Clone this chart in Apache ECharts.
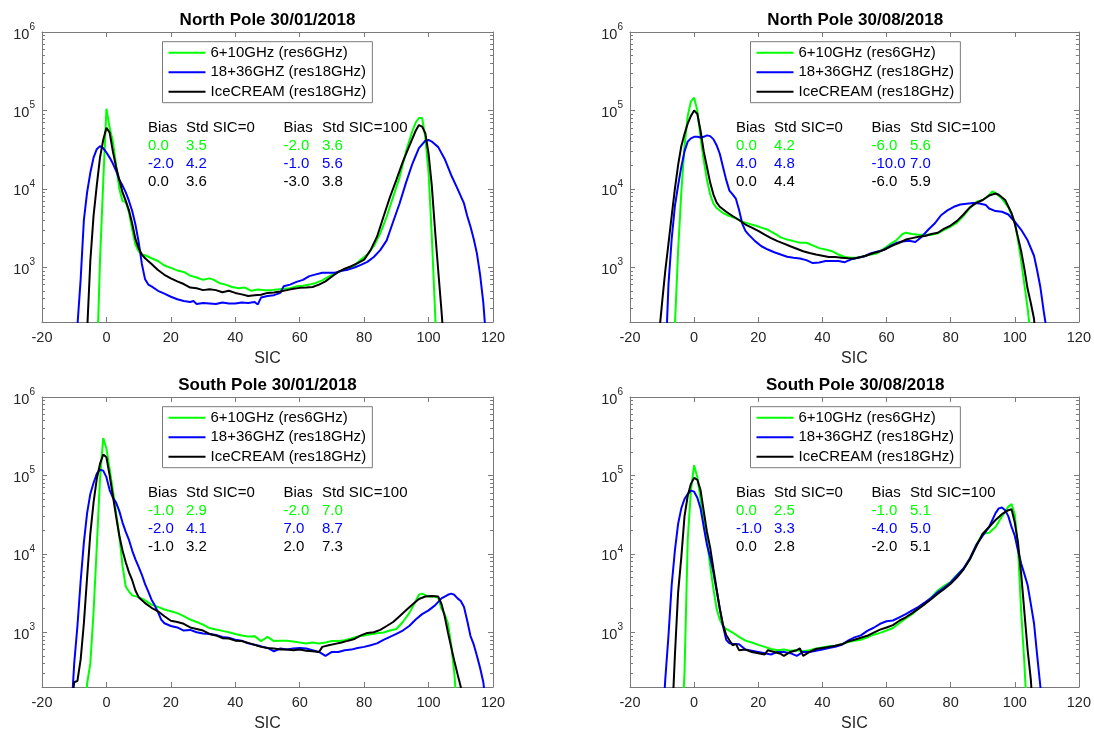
<!DOCTYPE html>
<html>
<head>
<meta charset="utf-8">
<script src="https://cdn.jsdelivr.net/npm/echarts@6/dist/echarts.min.js"></script>
<style>
html,body{margin:0;padding:0;background:#fff;}
#chart{width:1094px;height:733px;}
</style>
</head>
<body>
<div id="chart"></div>
<script>
// ---------------- DATA ----------------
const panelTitles = ['North Pole 30/01/2018', 'North Pole 30/08/2018', 'South Pole 30/01/2018', 'South Pole 30/08/2018'];
const seriesNames = ['6+10GHz (res6GHz)', '18+36GHZ (res18GHz)', 'IceCREAM (res18GHz)'];
const seriesColors = ['#00ff00', '#0000ff', '#000000'];
const xTickValues = [-20, 0, 20, 40, 60, 80, 100, 120];
const yTickValues = [1e3, 1e4, 1e5, 1e6];
const yTickExponents = ['3', '4', '5', '6'];
const xLabel = 'SIC';
const statsHeader = ['Bias', 'Std SIC=0', 'Bias', 'Std SIC=100'];

// stats rows: [bias0, std0, bias100, std100] per product (green, blue, black)
const statsNP0130 = [['0.0', '3.5', '-2.0', '3.6'], ['-2.0', '4.2', '-1.0', '5.6'], ['0.0', '3.6', '-3.0', '3.8']];
const statsNP0830 = [['0.0', '4.2', '-6.0', '5.6'], ['4.0', '4.8', '-10.0', '7.0'], ['0.0', '4.4', '-6.0', '5.9']];
const statsSP0130 = [['-1.0', '2.9', '-2.0', '7.0'], ['-2.0', '4.1', '7.0', '8.7'], ['-1.0', '3.2', '2.0', '7.3']];
const statsSP0830 = [['0.0', '2.5', '-1.0', '5.1'], ['-1.0', '3.3', '-4.0', '5.0'], ['0.0', '2.8', '-2.0', '5.1']];

// North Pole 30/01/2018
const np0130Green = [[-3,50],[-2,1200],[-1,12000],[0,105000],[1,60000],[2,40000],[3,20000],[4,10000],[5,7000],[6,6800],[7,5000],[8,3000],[9,1950],[10,1600],[11,1450],[12,1420],[14,1300],[16,1200],[18,1050],[20,980],[22,910],[24,870],[26,780],[28,740],[30,690],[32,720],[33,700],[35,630],[37,600],[39,560],[41,540],[43,550],[45,500],[47,520],[49,510],[51,510],[53,520],[55,530],[57,540],[59,570],[61,580],[63,600],[65,630],[67,680],[69,760],[71,840],[73,900],[75,980],[77,1050],[79,1250],[81,1450],[83,1850],[85,2700],[87,4400],[89,7900],[91,14000],[93,30000],[95,55000],[96,70000],[97,80000],[98,80000],[99,45000],[100,16000],[101,2500],[102,280],[103,30]];
const np0130Blue = [[-9.5,50],[-9,180],[-8,700],[-7,4000],[-6,9000],[-5,16000],[-4,25000],[-3,32000],[-2,35000],[-1,33000],[0,29000],[1,25000],[2,21000],[3,17000],[4,13000],[5,11000],[6,9000],[7,7000],[8,5200],[9,3500],[10,2100],[11,1100],[12,700],[13,600],[14,570],[16,500],[18,460],[20,420],[22,390],[24,370],[26,360],[27,370],[28,340],[30,350],[32,345],[34,340],[36,355],[38,345],[40,345],[42,355],[44,350],[46,360],[47,335],[48,410],[50,430],[52,440],[54,470],[55,570],[57,600],[59,650],[61,690],[63,770],[65,810],[67,850],[69,850],[71,850],[73,900],[75,930],[77,990],[79,1070],[81,1170],[83,1350],[85,1650],[87,2200],[89,3800],[91,6500],[93,12000],[95,21000],[97,33000],[99,41000],[100,42000],[101,40000],[103,34000],[105,24000],[107,15000],[109,10000],[111,6500],[112,4500],[113,3300],[114,2300],[115,1500],[116,800],[117,350],[118,100]];
const np0130Black = [[-7,30],[-6,150],[-5,1200],[-4,4500],[-3,11000],[-2,25000],[-1,42000],[0,60000],[1,52000],[2,30000],[3,19000],[4,13000],[5,9000],[6,7000],[7,5300],[8,3600],[9,2300],[10,1750],[11,1450],[12,1300],[14,1100],[16,920],[18,800],[20,720],[22,660],[24,610],[26,550],[28,540],[30,510],[32,525],[34,510],[36,480],[38,500],[40,470],[42,450],[44,430],[46,440],[48,445],[50,470],[52,475],[54,490],[56,510],[58,530],[60,545],[62,550],[64,560],[66,600],[68,660],[70,760],[72,870],[74,960],[76,1030],[78,1130],[80,1250],[82,1650],[84,2450],[86,4400],[88,7800],[90,13000],[92,22000],[94,35000],[96,55000],[97,65000],[98,62000],[99,51000],[100,28000],[101,11000],[102,3000],[103,900],[104,280],[105,80]];

// North Pole 30/08/2018
const np0830Green = [[-6.5,50],[-6,180],[-5,1600],[-4,9000],[-3,35000],[-2,85000],[-1,130000],[0,145000],[1,100000],[2,45000],[3,23000],[4,13000],[5,8500],[6,6500],[7,5700],[9,4900],[11,4500],[13,4200],[15,3800],[17,3600],[19,3400],[21,3200],[23,3000],[25,2700],[27,2400],[29,2250],[31,2150],[33,2050],[35,2050],[37,1900],[39,1750],[41,1680],[43,1600],[45,1450],[47,1350],[49,1320],[51,1320],[53,1380],[55,1450],[57,1500],[59,1700],[61,1950],[63,2200],[65,2650],[66,2750],[68,2650],[70,2600],[72,2600],[74,2600],[76,2700],[78,3000],[80,3300],[82,3700],[84,4500],[86,5700],[88,6800],[90,7200],[92,8300],[93,9300],[94,8800],[96,7500],[98,5800],[100,3800],[101,2200],[102,1200],[103,600],[104,300],[105,130],[106,40]];
const np0830Blue = [[-9,60],[-8.5,180],[-8,600],[-7,2300],[-6,6000],[-5,11000],[-4,19000],[-3,30000],[-2,40000],[-1,44000],[0,46000],[1,46000],[2,45000],[3,46000],[4,48000],[5,47000],[6,43000],[7,36000],[8,28000],[9,19000],[10,13000],[11,9500],[12,8500],[13,7500],[14,5400],[15,3600],[16,2900],[17,2600],[19,2150],[21,1850],[23,1680],[25,1550],[27,1450],[29,1360],[31,1320],[33,1290],[35,1230],[37,1130],[39,1150],[41,1200],[43,1200],[45,1200],[47,1160],[49,1260],[51,1320],[53,1370],[55,1500],[57,1580],[59,1650],[61,1850],[63,2030],[65,2130],[67,2180],[69,2100],[71,2450],[73,3000],[75,3600],[77,4600],[79,5300],[81,5900],[83,6300],[85,6450],[87,6600],[89,6500],[91,6200],[92,5600],[94,5200],[96,5100],[98,4700],[100,3800],[102,3000],[104,2200],[106,1400],[107,900],[108,550],[109,280],[110,150],[111,60]];
const np0830Black = [[-11,130],[-10,350],[-9,900],[-8,2000],[-7,4500],[-6,10000],[-5,20000],[-4,35000],[-3,50000],[-2,68000],[-1,85000],[0,100000],[1,90000],[2,55000],[3,30000],[4,19000],[5,12000],[6,8500],[7,6700],[8,5900],[10,5100],[12,4500],[14,4000],[16,3500],[18,3200],[20,2900],[22,2600],[24,2350],[26,2150],[28,2000],[30,1850],[32,1720],[34,1600],[36,1520],[38,1450],[40,1400],[42,1350],[44,1350],[46,1320],[48,1300],[50,1290],[52,1350],[54,1420],[56,1520],[58,1600],[60,1720],[62,1900],[64,2050],[66,2250],[68,2350],[70,2450],[72,2500],[74,2650],[76,2750],[78,3100],[80,3400],[82,3900],[84,4700],[86,5800],[88,6600],[90,7200],[92,8200],[94,8700],[95,8400],[97,7200],[99,4900],[100,3600],[101,2400],[102,1600],[103,950],[104,530],[105,350],[106,220],[107,70]];

// South Pole 30/01/2018
const sp0130Green = [[-7,50],[-6,220],[-5,400],[-4,1800],[-3,12000],[-2,90000],[-1,300000],[0,220000],[1,120000],[2,65000],[3,33000],[4,17000],[5,7000],[6,3800],[7,3300],[8,2950],[10,2800],[12,2550],[14,2250],[16,2100],[18,1950],[20,1850],[22,1750],[24,1600],[26,1450],[28,1350],[30,1250],[32,1130],[34,1080],[36,1040],[38,1000],[40,950],[42,910],[44,880],[46,890],[48,770],[50,870],[52,770],[54,780],[56,780],[58,760],[60,740],[62,720],[64,740],[66,720],[68,740],[70,770],[72,770],[74,790],[76,830],[78,880],[80,910],[82,940],[84,970],[86,990],[88,1050],[90,1100],[92,1350],[94,1750],[96,2500],[97,3000],[98,3100],[100,2850],[102,2850],[103,2750],[104,2000],[105,1700],[106,1300],[107,700],[108,300],[109,80]];
const sp0130Blue = [[-11,80],[-10,400],[-9,1200],[-8,4500],[-7,14000],[-6,33000],[-5,58000],[-4,80000],[-3,105000],[-2,118000],[-1,115000],[0,95000],[1,65000],[2,52000],[3,45000],[4,35000],[5,25000],[6,19000],[7,15000],[8,11000],[9,8500],[10,6800],[11,5400],[12,4100],[13,3300],[14,2600],[15,2200],[16,1800],[17,1450],[18,1300],[20,1200],[22,1150],[24,1050],[26,1070],[28,1000],[30,960],[32,950],[34,920],[36,870],[38,850],[40,800],[42,780],[44,720],[46,690],[48,660],[50,630],[52,570],[54,620],[56,600],[58,620],[60,630],[62,620],[64,590],[66,560],[68,500],[70,560],[72,560],[74,590],[76,600],[78,630],[80,650],[82,680],[84,720],[86,800],[88,870],[90,950],[92,1050],[94,1200],[96,1450],[98,1700],[100,1900],[102,2200],[104,2700],[106,3000],[107,3100],[108,3000],[109,2700],[110,2500],[111,2100],[112,1400],[113,900],[114,700],[115,500],[116,350],[117,230],[118,100]];
const sp0130Black = [[-11,100],[-10,230],[-9,240],[-8,450],[-7,1300],[-6,5000],[-5,18000],[-4,45000],[-3,90000],[-2,140000],[-1,185000],[0,170000],[1,100000],[2,55000],[3,30000],[4,17000],[5,11000],[6,7800],[7,5800],[8,4600],[9,3400],[10,2800],[12,2350],[14,2050],[16,1850],[18,1600],[20,1400],[22,1350],[24,1280],[26,1150],[28,1100],[30,1050],[32,950],[34,910],[36,840],[38,830],[40,780],[42,770],[44,730],[46,690],[48,650],[50,630],[52,620],[54,600],[56,600],[58,590],[60,600],[62,580],[64,570],[66,560],[67,650],[69,680],[71,710],[73,740],[75,780],[77,820],[79,910],[81,980],[83,1000],[85,1070],[87,1200],[89,1350],[91,1600],[93,1900],[95,2250],[97,2650],[99,2850],[101,2900],[103,2850],[104,2300],[105,1600],[106,1000],[107,650],[108,430],[109,290],[110,200],[111,80]];

// South Pole 30/08/2018
const sp0830Green = [[-4,50],[-3,300],[-2,15000],[-1,65000],[0,135000],[1,95000],[2,50000],[3,26000],[4,15000],[5,7000],[6,3600],[7,2000],[8,1450],[9,1200],[10,1100],[12,990],[14,870],[16,780],[18,740],[20,690],[22,650],[24,610],[26,590],[28,600],[30,580],[32,590],[34,570],[36,590],[38,620],[40,640],[42,660],[44,670],[46,700],[48,750],[50,780],[52,800],[54,860],[56,930],[58,980],[60,1050],[62,1130],[64,1300],[66,1500],[68,1700],[70,2000],[72,2300],[74,2800],[76,3400],[78,3900],[80,4400],[82,5400],[84,6500],[86,8500],[88,13000],[90,18000],[92,18500],[94,22000],[96,30000],[98,40000],[99,43000],[100,32000],[101,12000],[102,1800],[103,400],[104,60]];
const sp0830Blue = [[-10,50],[-9,250],[-8,900],[-7,4000],[-6,11000],[-5,24000],[-4,38000],[-3,50000],[-2,58000],[-1,64000],[0,62000],[1,52000],[2,38000],[3,22000],[4,13000],[5,9000],[6,5800],[7,3400],[8,2000],[9,1200],[10,800],[11,720],[12,710],[14,700],[16,600],[18,580],[20,560],[22,540],[24,520],[26,560],[28,560],[30,540],[32,500],[34,560],[36,560],[38,580],[40,600],[42,630],[44,650],[46,690],[48,780],[50,860],[52,910],[54,1040],[56,1140],[58,1280],[60,1380],[62,1410],[64,1550],[66,1700],[68,1900],[70,2100],[72,2400],[74,2750],[76,3250],[78,3700],[80,4300],[82,5300],[84,6500],[86,8800],[88,13000],[90,17000],[92,22000],[94,33000],[95,38000],[96,39000],[97,36000],[98,30000],[99,22000],[100,17000],[101,11000],[102,7500],[103,5500],[104,4000],[105,2300],[106,1300],[107,500],[108,200],[109,60]];
const sp0830Black = [[-7,60],[-6,500],[-5,3200],[-4,9000],[-3,30000],[-2,55000],[-1,78000],[0,93000],[1,88000],[2,65000],[3,35000],[4,19000],[5,12000],[6,6500],[7,3600],[8,2000],[9,1250],[10,920],[11,790],[12,680],[13,710],[14,590],[16,600],[18,560],[20,540],[22,520],[23,590],[25,560],[27,530],[28,500],[30,560],[32,590],[33,620],[34,500],[36,560],[38,610],[40,630],[42,650],[44,670],[46,700],[48,760],[50,800],[52,850],[54,900],[56,990],[58,1080],[60,1150],[62,1230],[64,1400],[66,1550],[68,1750],[70,2000],[72,2300],[74,2650],[76,3100],[78,3550],[80,4150],[82,5000],[84,6300],[86,8500],[88,12500],[90,18000],[92,22000],[94,27000],[96,32000],[98,36000],[99,37000],[100,25000],[101,14000],[102,5500],[103,1800],[104,600],[105,250],[106,60]];

const panelSeries = [
  [np0130Green, np0130Blue, np0130Black],
  [np0830Green, np0830Blue, np0830Black],
  [sp0130Green, sp0130Blue, sp0130Black],
  [sp0830Green, sp0830Blue, sp0830Black]
];
const panelStats = [statsNP0130, statsNP0830, statsSP0130, statsSP0830];

// ---------------- LAYOUT / STYLE ----------------
const FONT = '"Liberation Sans", Arial, Helvetica, sans-serif';
const AXIS_COLOR = '#7a7a7a';
const TEXT_COLOR = '#262626';
const grids = [
  {left: 42, top: 32, width: 451, height: 290},
  {left: 630, top: 32, width: 450.5, height: 290},
  {left: 42, top: 397, width: 451, height: 290.5},
  {left: 630, top: 397, width: 450.5, height: 290.5}
];
const Y_MIN = 200, Y_MAX = 1e6;
const minorTickValues = [];
for (let e = 2; e <= 5; e++) {
  for (let m = 2; m <= 9; m++) minorTickValues.push(m * Math.pow(10, e));
}

const option = {
  animation: false,
  backgroundColor: '#ffffff',
  textStyle: {fontFamily: FONT},
  title: [],
  legend: [],
  grid: [],
  xAxis: [],
  yAxis: [],
  series: [],
  graphic: []
};

grids.forEach((g, gi) => {
  option.grid.push({left: g.left, top: g.top, width: g.width, height: g.height, containLabel: false});
  option.title.push({
    text: panelTitles[gi],
    left: g.left + g.width / 2,
    top: g.top - 20,
    textAlign: 'center',
    padding: 0,
    textStyle: {fontFamily: FONT, fontSize: 17, fontWeight: 'bold', color: '#000'}
  });
  // x axes: bottom (labelled) and top (ticks only)
  const xCommon = {
    type: 'value', gridIndex: gi, min: xTickValues[0], max: xTickValues[xTickValues.length - 1],
    interval: xTickValues[1] - xTickValues[0],
    splitLine: {show: false},
    axisLine: {show: true, onZero: false, lineStyle: {color: AXIS_COLOR, width: 1}},
    axisTick: {show: true, inside: true, length: 5, lineStyle: {color: AXIS_COLOR}}
  };
  option.xAxis.push(Object.assign({}, xCommon, {
    position: 'bottom',
    name: xLabel, nameLocation: 'middle', nameGap: 29,
    nameTextStyle: {fontFamily: FONT, fontSize: 16, color: TEXT_COLOR},
    axisLabel: {show: true, margin: 8, fontFamily: FONT, fontSize: 14.5, color: TEXT_COLOR}
  }));
  option.xAxis.push(Object.assign({}, xCommon, {position: 'top', axisLabel: {show: false}}));
  // y axes: left major (labelled), left minor, right major, right minor
  const yCommon = {
    type: 'log', logBase: 10, gridIndex: gi, min: Y_MIN, max: Y_MAX,
    splitLine: {show: false}, minorTick: {show: false}, minorSplitLine: {show: false},
    axisLine: {show: true, onZero: false, lineStyle: {color: AXIS_COLOR, width: 1}}
  };
  option.yAxis.push(Object.assign({}, yCommon, {
    position: 'left',
    axisTick: {show: true, inside: true, length: 5, customValues: yTickValues, lineStyle: {color: AXIS_COLOR}},
    axisLabel: {
      show: true, margin: 7, customValues: yTickValues,
      formatter: function (v) {
        const idx = yTickValues.indexOf(v);
        return '{b|10}{s|' + (idx >= 0 ? yTickExponents[idx] : '') + '}';
      },
      rich: {
        b: {fontFamily: FONT, fontSize: 14.5, color: TEXT_COLOR, lineHeight: 20, verticalAlign: 'bottom'},
        s: {fontFamily: FONT, fontSize: 10, color: TEXT_COLOR, lineHeight: 20, verticalAlign: 'top'}
      }
    }
  }));
  option.yAxis.push(Object.assign({}, yCommon, {
    position: 'left',
    axisLine: {show: false, onZero: false},
    axisTick: {show: true, inside: true, length: 3, customValues: minorTickValues, lineStyle: {color: AXIS_COLOR}},
    axisLabel: {show: false}
  }));
  option.yAxis.push(Object.assign({}, yCommon, {
    position: 'right',
    axisTick: {show: true, inside: true, length: 5, customValues: yTickValues, lineStyle: {color: AXIS_COLOR}},
    axisLabel: {show: false}
  }));
  option.yAxis.push(Object.assign({}, yCommon, {
    position: 'right',
    axisLine: {show: false, onZero: false},
    axisTick: {show: true, inside: true, length: 3, customValues: minorTickValues, lineStyle: {color: AXIS_COLOR}},
    axisLabel: {show: false}
  }));
  // series
  panelSeries[gi].forEach((d, si) => {
    option.series.push({
      type: 'line', name: seriesNames[si], data: d,
      xAxisIndex: gi * 2, yAxisIndex: gi * 4,
      showSymbol: false, symbol: 'none', clip: true, smooth: false,
      lineStyle: {color: seriesColors[si], width: 2},
      itemStyle: {color: seriesColors[si]},
      z: 2 + si
    });
  });
  // legend
  option.legend.push({
    data: seriesNames, orient: 'vertical', selectedMode: false,
    left: g.left + 120.5, top: g.top + 9.7,
    padding: [3.5, 6, 3.5, 6], itemGap: 4.5, itemWidth: 37, itemHeight: 2,
    icon: 'rect', backgroundColor: '#ffffff', borderColor: AXIS_COLOR, borderWidth: 1, borderRadius: 0,
    textStyle: {fontFamily: FONT, fontSize: 15, color: '#000', lineHeight: 15}
  });
  // stats text block
  const colX = [106, 144, 241.5, 280];
  const rowY = [96, 114.3, 132.3, 150];
  statsHeader.forEach((t, ci) => {
    option.graphic.push({type: 'text', x: g.left + colX[ci], y: g.top + rowY[0], silent: true,
      style: {text: t, fill: '#000', font: '15px ' + FONT, verticalAlign: 'middle', align: 'left'}});
  });
  panelStats[gi].forEach((row, ri) => {
    row.forEach((t, ci) => {
      option.graphic.push({type: 'text', x: g.left + colX[ci], y: g.top + rowY[ri + 1], silent: true,
        style: {text: t, fill: seriesColors[ri], font: '15px ' + FONT, verticalAlign: 'middle', align: 'left'}});
    });
  });
});

const chart = echarts.init(document.getElementById('chart'), null, {renderer: 'canvas'});
chart.setOption(option);
</script>
</body>
</html>
